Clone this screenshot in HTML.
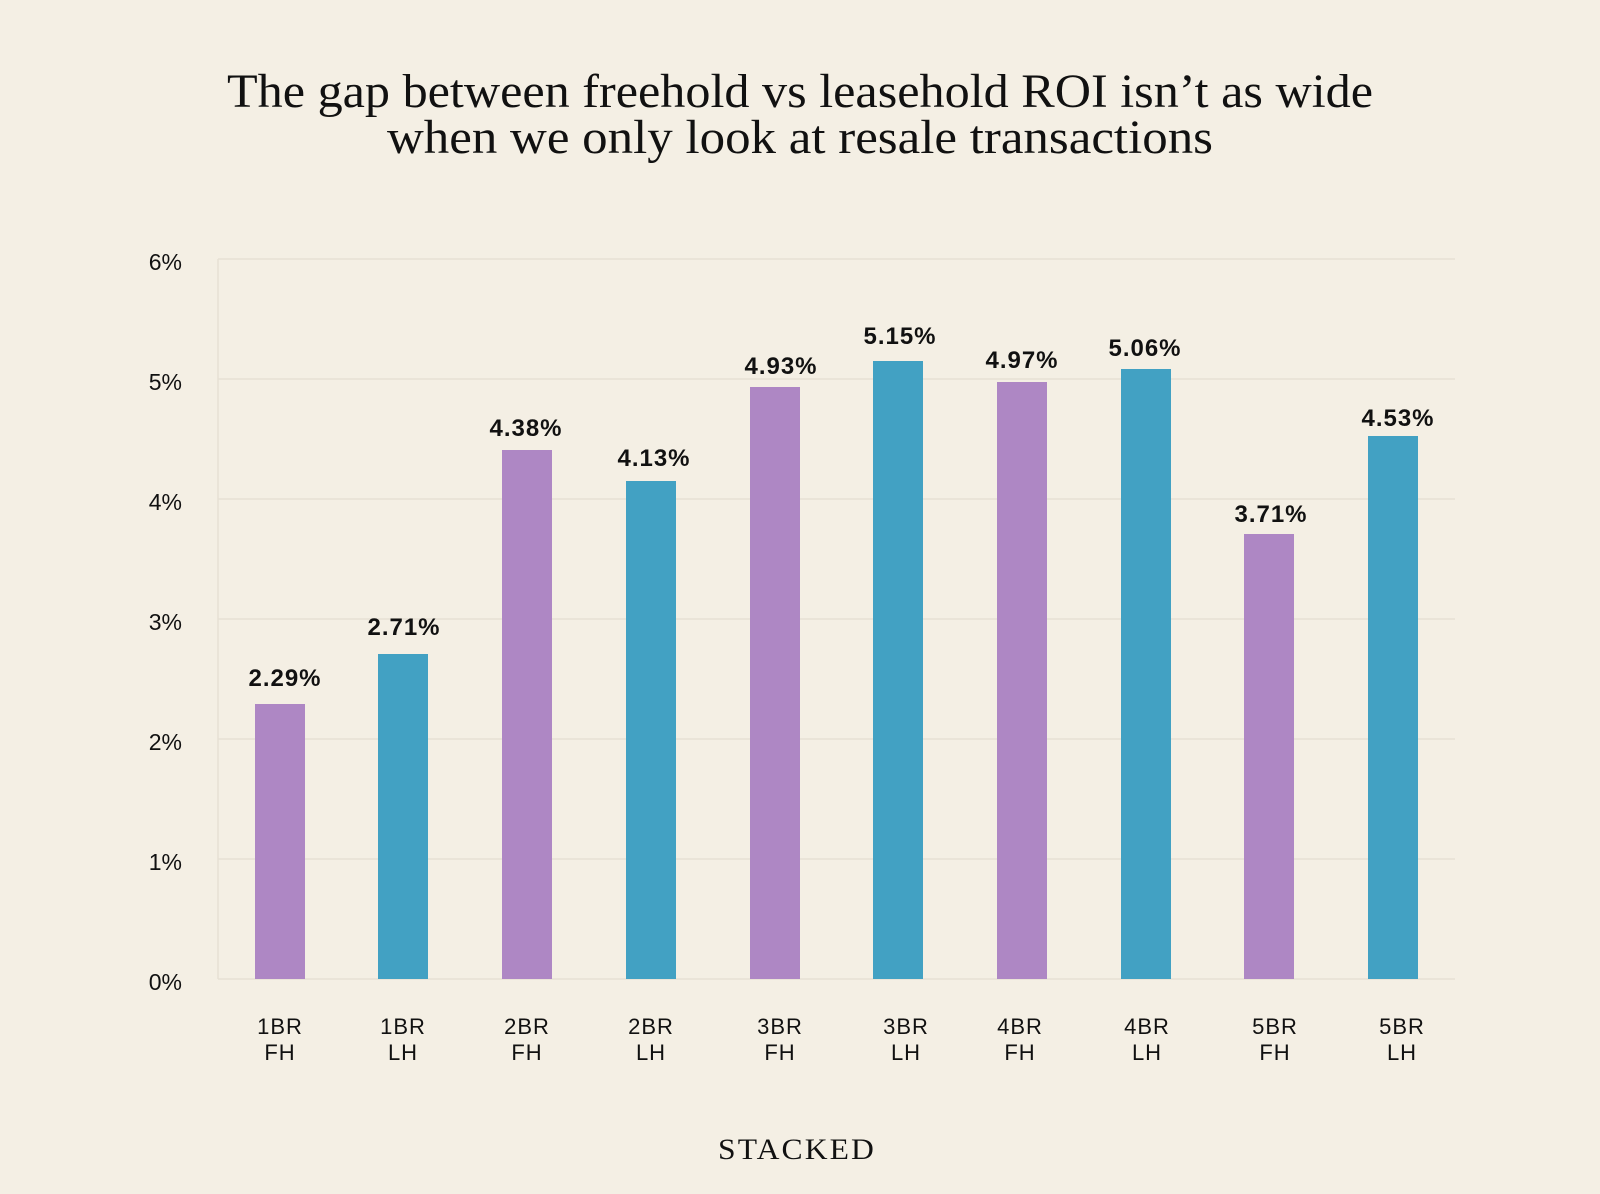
<!DOCTYPE html>
<html><head><meta charset="utf-8"><style>
html,body{margin:0;padding:0;background:#f4efe4;}
svg{display:block}
</style></head><body>
<svg width="1600" height="1194" viewBox="0 0 1600 1194" xmlns="http://www.w3.org/2000/svg">
<rect width="1600" height="1194" fill="#f4efe4"/>
<g font-family="Liberation Serif, serif" fill="#111" font-size="48" text-anchor="middle">
<text x="800" y="107" textLength="1146" lengthAdjust="spacingAndGlyphs">The gap between freehold vs leasehold ROI isn’t as wide</text>
<text x="800" y="153" textLength="826" lengthAdjust="spacingAndGlyphs">when we only look at resale transactions</text>
<text x="797" y="1159" font-size="30" letter-spacing="2" textLength="158" lengthAdjust="spacingAndGlyphs">STACKED</text>
</g>
<g stroke="#e6e0d4" stroke-width="1.5">
<line x1="218" y1="259" x2="1455" y2="259"/>
<line x1="218" y1="379" x2="1455" y2="379"/>
<line x1="218" y1="499" x2="1455" y2="499"/>
<line x1="218" y1="619" x2="1455" y2="619"/>
<line x1="218" y1="739" x2="1455" y2="739"/>
<line x1="218" y1="859" x2="1455" y2="859"/>
<line x1="218" y1="979" x2="1455" y2="979"/>
<line x1="218" y1="259" x2="218" y2="979"/>
</g>
<g font-family="Liberation Sans, sans-serif" font-size="23" fill="#111" text-anchor="end">
<text x="182" y="270">6%</text>
<text x="182" y="390">5%</text>
<text x="182" y="510">4%</text>
<text x="182" y="630">3%</text>
<text x="182" y="750">2%</text>
<text x="182" y="870">1%</text>
<text x="182" y="990">0%</text>
</g>
<g>
<rect x="255" y="704" width="50" height="275" fill="#ae87c4"/>
<rect x="378" y="654" width="50" height="325" fill="#42a1c3"/>
<rect x="502" y="450" width="50" height="529" fill="#ae87c4"/>
<rect x="626" y="481" width="50" height="498" fill="#42a1c3"/>
<rect x="750" y="387" width="50" height="592" fill="#ae87c4"/>
<rect x="873" y="361" width="50" height="618" fill="#42a1c3"/>
<rect x="997" y="382" width="50" height="597" fill="#ae87c4"/>
<rect x="1121" y="369" width="50" height="610" fill="#42a1c3"/>
<rect x="1244" y="534" width="50" height="445" fill="#ae87c4"/>
<rect x="1368" y="436" width="50" height="543" fill="#42a1c3"/>
</g>
<g font-family="Liberation Sans, sans-serif" font-size="24" font-weight="bold" fill="#111" text-anchor="middle" letter-spacing="1">
<text x="285" y="686">2.29%</text>
<text x="404" y="635">2.71%</text>
<text x="526" y="436">4.38%</text>
<text x="654" y="466">4.13%</text>
<text x="781" y="374">4.93%</text>
<text x="900" y="344">5.15%</text>
<text x="1022" y="368">4.97%</text>
<text x="1145" y="356">5.06%</text>
<text x="1271" y="522">3.71%</text>
<text x="1398" y="426">4.53%</text>
</g>
<g font-family="Liberation Sans, sans-serif" font-size="22" fill="#111" text-anchor="middle" letter-spacing="1">
<text x="280" y="1034">1BR</text><text x="280" y="1060">FH</text>
<text x="403" y="1034">1BR</text><text x="403" y="1060">LH</text>
<text x="527" y="1034">2BR</text><text x="527" y="1060">FH</text>
<text x="651" y="1034">2BR</text><text x="651" y="1060">LH</text>
<text x="780" y="1034">3BR</text><text x="780" y="1060">FH</text>
<text x="906" y="1034">3BR</text><text x="906" y="1060">LH</text>
<text x="1020" y="1034">4BR</text><text x="1020" y="1060">FH</text>
<text x="1147" y="1034">4BR</text><text x="1147" y="1060">LH</text>
<text x="1275" y="1034">5BR</text><text x="1275" y="1060">FH</text>
<text x="1402" y="1034">5BR</text><text x="1402" y="1060">LH</text>
</g>
</svg>
</body></html>
